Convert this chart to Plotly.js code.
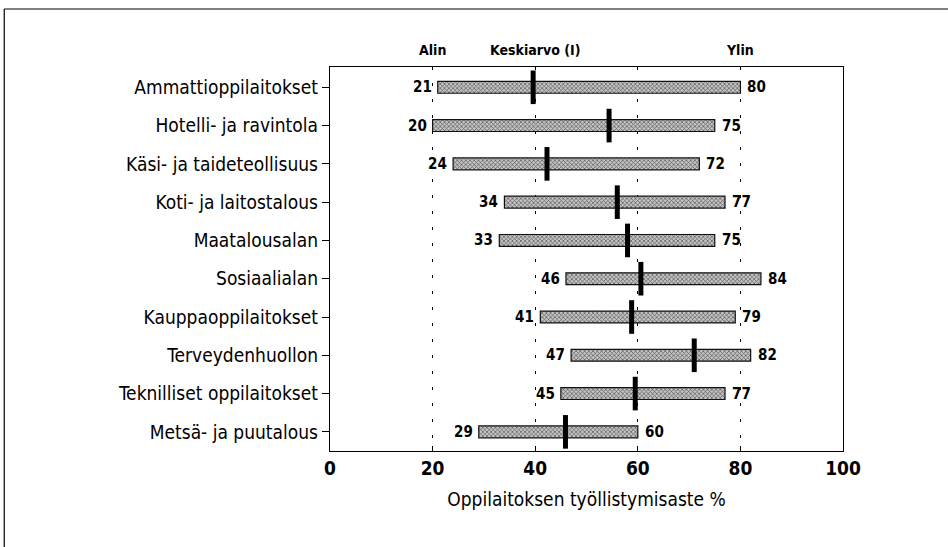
<!DOCTYPE html>
<html>
<head>
<meta charset="utf-8">
<script src="https://cdn.plot.ly/plotly-3.0.1.min.js"></script>
<style>html,body{margin:0;padding:0;background:#fff;}#chart{width:948px;height:547px;}</style>
</head>
<body>
<div id="chart"></div>
<script>
const categories = ["Ammattioppilaitokset","Hotelli- ja ravintola","Käsi- ja taideteollisuus","Koti- ja laitostalous","Maatalousalan","Sosiaalialan","Kauppaoppilaitokset","Terveydenhuollon","Teknilliset oppilaitokset","Metsä- ja puutalous"];
const minVals = [21,20,24,34,33,46,41,47,45,29];
const maxVals = [80,75,72,77,75,84,79,82,77,60];
const meanVals = [39.6,54.4,42.3,56.0,58.0,60.6,58.8,71.0,59.5,45.9];
const xTicks = [0,20,40,60,80,100];
const headerLabels = [{x:20,text:"Alin"},{x:40,text:"Keskiarvo (I)"},{x:80,text:"Ylin"}];

const FONT = "'DejaVu Sans Condensed','Liberation Sans Narrow','Arial Narrow',sans-serif";
const idx = categories.map((c,i)=>i);

const traces = [
  {
    type:'bar', orientation:'h', y:idx, base:minVals,
    x:maxVals.map((m,i)=>m-minVals[i]), width:0.31,
    marker:{color:'#b4b4b4', line:{color:'#111', width:1.2},
      pattern:{shape:'x', size:3, solidity:0.4, fgcolor:'#555', bgcolor:'#c4c4c4'}},
    hoverinfo:'skip', showlegend:false
  },
  {
    type:'scatter', mode:'markers', y:idx, x:meanVals,
    marker:{symbol:'line-ns', size:24, color:'#000', line:{color:'#000', width:5}},
    showlegend:false, hoverinfo:'skip', cliponaxis:false
  }
];

const valFont = {family:FONT, size:15, weight:'bold', color:'#000'};
const annotations = [];
headerLabels.forEach(h=>annotations.push({
  x:h.x, xref:'x', y:1, yref:'paper', yanchor:'bottom', yshift:7,
  text:h.text, showarrow:false, font:{family:FONT, size:14, weight:'bold', color:'#000'}
}));
idx.forEach(i=>{
  annotations.push({x:minVals[i], y:i, xref:'x', yref:'y', xanchor:'right', xshift:-4,
    text:String(minVals[i]), showarrow:false, font:valFont});
  annotations.push({x:maxVals[i], y:i, xref:'x', yref:'y', xanchor:'left', xshift:5,
    text:String(maxVals[i]), showarrow:false, font:valFont});
});

const layout = {
  width:948, height:547,
  margin:{l:330, r:105, t:67, b:96},
  paper_bgcolor:'#fff', plot_bgcolor:'#fff',
  font:{family:FONT, color:'#000'},
  xaxis:{
    range:[0,100], tickvals:xTicks, ticktext:xTicks.map(String),
    showgrid:true, gridcolor:'#000', gridwidth:1, griddash:'3px,13px',
    zeroline:false, showline:true, linecolor:'#000', linewidth:1.2, mirror:true,
    ticks:'inside', ticklen:5, tickcolor:'#000',
    tickfont:{family:FONT, size:19, weight:'bold'},
    title:{text:'Oppilaitoksen työllistymisaste %', font:{family:FONT, size:19}, standoff:14}
  },
  yaxis:{
    range:[9.5,-0.53], tickvals:idx, ticktext:categories,
    showgrid:false, zeroline:false, showline:true, linecolor:'#000', linewidth:1.2, mirror:true,
    ticks:'outside', ticklen:7, tickcolor:'#000',
    tickfont:{family:FONT, size:19}
  },
  annotations: annotations,
  shapes:[
    {type:'line', xref:'paper', yref:'paper', x0:-0.635, x1:1.25, y0:1.151, y1:1.151, line:{color:'#000', width:1.2}},
    {type:'line', xref:'paper', yref:'paper', x0:-0.635, x1:-0.635, y0:1.151, y1:-0.3, line:{color:'#000', width:1.2}}
  ]
};

Plotly.newPlot('chart', traces, layout, {displayModeBar:false, staticPlot:true});
</script>
</body>
</html>
